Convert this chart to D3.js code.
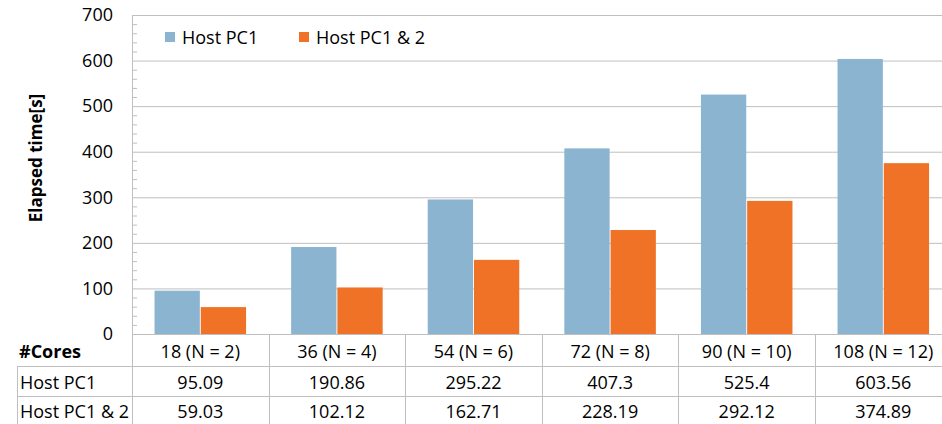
<!DOCTYPE html>
<html>
<head>
<meta charset="utf-8">
<script src="https://cdn.jsdelivr.net/npm/d3@7"></script>
<style>
  body { margin: 0; background: #fff; overflow: hidden; }
  svg { display: block; font-family: "Open Sans", "Noto Sans", sans-serif; }
</style>
</head>
<body>
<svg width="942" height="424"></svg>
<script>
const categories = ["18  (N = 2)", "36 (N = 4)", "54 (N = 6)", "72 (N = 8)", "90 (N = 10)", "108 (N = 12)"];
const series_names = ["Host PC1", "Host PC1 & 2"];
const host_pc1 = [95.09, 190.86, 295.22, 407.3, 525.4, 603.56];
const host_pc12 = [59.03, 102.12, 162.71, 228.19, 292.12, 374.89];
const y_ticks = [0, 100, 200, 300, 400, 500, 600, 700];

const colors = ["#8ab4d0", "#f07226"];
const grid = "#bfbfbf";

const margin = { left: 132, top: 15, bottom: 334 };
const col_w = 136.6;
const plot_right = margin.left + col_w * categories.length;

const svg = d3.select("svg");

const x_scale = d3.scaleBand()
    .domain(categories)
    .range([margin.left, plot_right])
    .paddingInner(0.33)
    .paddingOuter(0.165);

const x_inner = d3.scaleBand()
    .domain(series_names)
    .range([0, x_scale.bandwidth()])
    .paddingInner(0.02);

const y_scale = d3.scaleLinear().domain([0, 700]).range([margin.bottom, margin.top]);

// gridlines + y labels
const y_axis = d3.axisLeft(y_scale)
    .tickValues(y_ticks)
    .tickSize(-(plot_right - margin.left))
    .tickPadding(19);

svg.append("g")
    .attr("transform", `translate(${margin.left},0)`)
    .call(y_axis)
    .call(g => g.select(".domain").remove())
    .call(g => g.selectAll(".tick line").attr("stroke", grid))
    .call(g => g.selectAll(".tick text")
        .attr("fill", "#000")
        .style("font-size", "18px")
        .style("font-family", "Open Sans, sans-serif"));

// minor ticks (inside)
svg.append("g")
    .selectAll("line")
    .data(d3.range(0, 700, 20).filter(v => v % 100 !== 0))
    .join("line")
    .attr("x1", margin.left)
    .attr("x2", margin.left + 5)
    .attr("y1", d => y_scale(d) + 0.5)
    .attr("y2", d => y_scale(d) + 0.5)
    .attr("stroke", grid);

// left axis line
svg.append("line")
    .attr("x1", margin.left + 0.5).attr("x2", margin.left + 0.5)
    .attr("y1", margin.top).attr("y2", 424)
    .attr("stroke", grid);

// bars
const rows = categories.map((c, i) => ({ cat: c, values: [host_pc1[i], host_pc12[i]] }));

svg.append("g")
    .selectAll("g")
    .data(rows)
    .join("g")
    .attr("transform", d => `translate(${x_scale(d.cat)},0)`)
    .selectAll("rect")
    .data(d => d.values.map((v, j) => ({ name: series_names[j], value: v, j })))
    .join("rect")
    .attr("x", d => x_inner(d.name))
    .attr("width", x_inner.bandwidth())
    .attr("y", d => y_scale(d.value))
    .attr("height", d => y_scale(0) - y_scale(d.value))
    .attr("fill", d => colors[d.j]);

// x axis line
svg.append("line")
    .attr("x1", margin.left).attr("x2", plot_right)
    .attr("y1", margin.bottom + 0.5).attr("y2", margin.bottom + 0.5)
    .attr("stroke", grid);

// data table
const row_y = [334, 366, 396, 426];
const table_left = 17;
const table = svg.append("g");

[row_y[1], row_y[2]].forEach(y => {
    table.append("line")
        .attr("x1", table_left).attr("x2", plot_right)
        .attr("y1", y + 0.5).attr("y2", y + 0.5)
        .attr("stroke", grid);
});
table.append("line")
    .attr("x1", table_left + 0.5).attr("x2", table_left + 0.5)
    .attr("y1", row_y[1]).attr("y2", 424)
    .attr("stroke", grid);

categories.forEach((c, i) => {
    const xr = margin.left + col_w * (i + 1);
    table.append("line")
        .attr("x1", Math.round(xr) + 0.5).attr("x2", Math.round(xr) + 0.5)
        .attr("y1", row_y[0]).attr("y2", 424)
        .attr("stroke", grid);
});

const cell_text = (x, y, t, anchor) => table.append("text")
    .attr("x", x).attr("y", y)
    .attr("text-anchor", anchor)
    .attr("dominant-baseline", "central")
    .style("font-size", "18px")
    .text(t);

categories.forEach((c, i) => {
    const cx = x_scale(c) + x_scale.bandwidth() / 2;
    cell_text(cx, (row_y[0] + row_y[1]) / 2 + 1, c, "middle");
    cell_text(cx, (row_y[1] + row_y[2]) / 2 + 1, host_pc1[i], "middle");
    cell_text(cx, (row_y[2] + row_y[3]) / 2, host_pc12[i], "middle");
});

cell_text(19, (row_y[0] + row_y[1]) / 2 + 1, "#Cores", "start").style("font-weight", "bold");
cell_text(20, (row_y[1] + row_y[2]) / 2 + 1, series_names[0], "start");
cell_text(20, (row_y[2] + row_y[3]) / 2, series_names[1], "start");

// y label
svg.append("text")
    .attr("transform", "translate(35,158) rotate(-90)")
    .attr("text-anchor", "middle")
    .attr("dominant-baseline", "central")
    .style("font-size", "17px")
    .style("font-weight", "bold")
    .text("Elapsed time[s]");

// legend
const legend_x = [165, 299];
const legend = svg.append("g")
    .selectAll("g")
    .data(series_names)
    .join("g")
    .attr("transform", (d, i) => `translate(${legend_x[i]},32)`);

legend.append("rect")
    .attr("width", 10).attr("height", 10)
    .attr("fill", (d, i) => colors[i]);

legend.append("text")
    .attr("x", 17).attr("y", 5)
    .attr("dominant-baseline", "central")
    .style("font-size", "18px")
    .text(d => d);
</script>
</body>
</html>
